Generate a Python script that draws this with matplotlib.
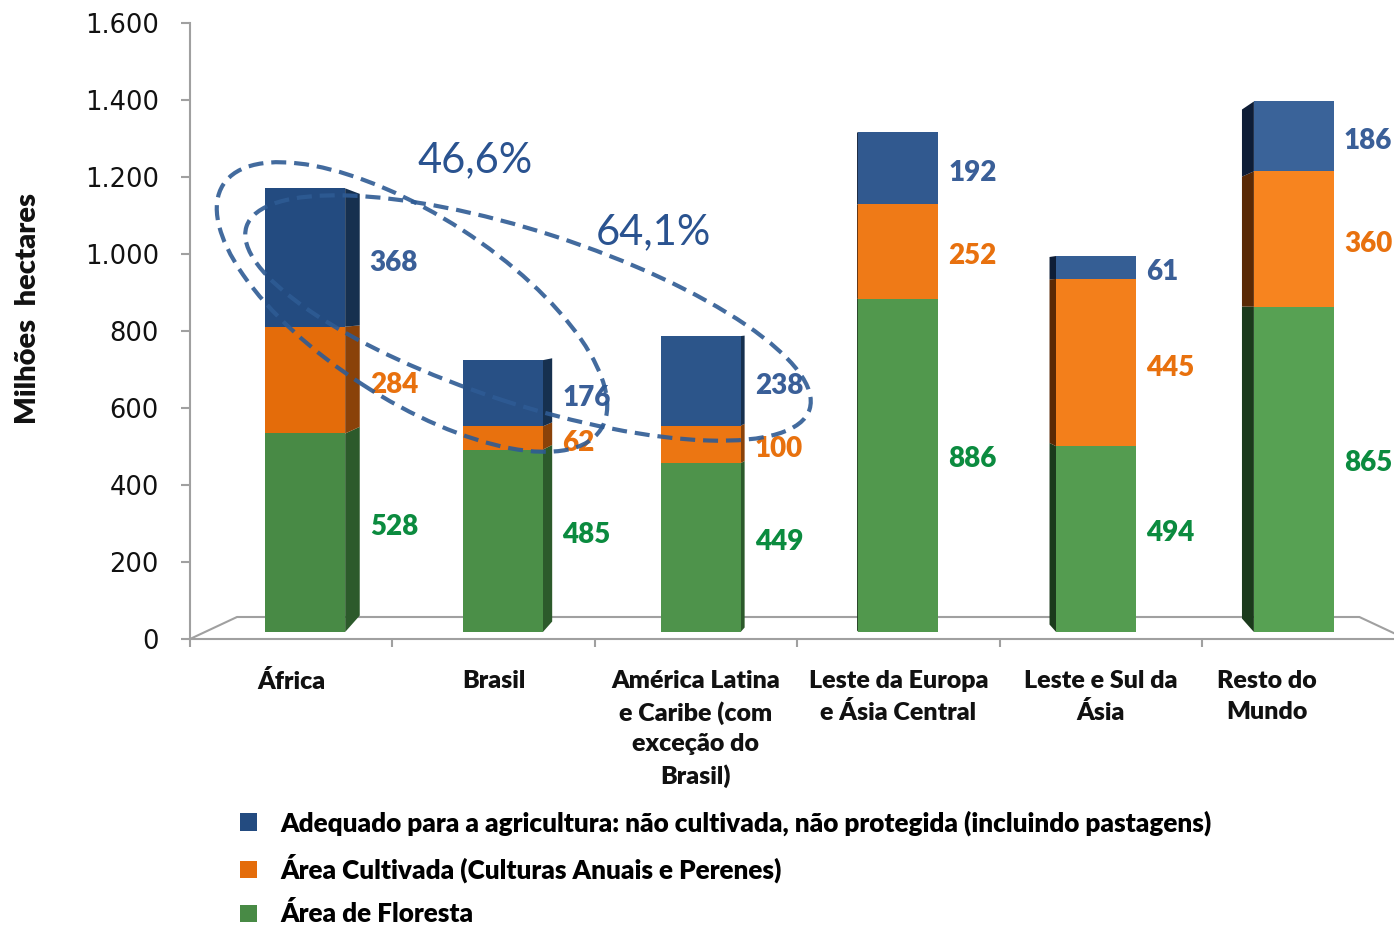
import numpy as np
import matplotlib.pyplot as plt
from matplotlib.patches import Ellipse, Polygon, Patch
from matplotlib.colors import to_rgb


#-------------------------------------------------------------------
# data (milhões de hectares)
regions = ["África", "Brasil",
           "América Latina\ne Caribe (com\nexceção do\nBrasil)",
           "Leste da Europa\ne Ásia Central", "Leste e Sul da\nÁsia",
           "Resto do\nMundo"]
floresta = [528, 485, 449, 886, 494, 865]
cultivada = [284, 62, 100, 252, 445, 360]
adequada = [368, 176, 238, 192, 61, 186]
series_names = ["Adequado para a agricultura: não cultivada, não protegida (incluindo pastagens)",
                "Área Cultivada (Culturas Anuais e Perenes)",
                "Área de Floresta"]
y_ticks = [0, 200, 400, 600, 800, 1000, 1200, 1400, 1600]
share_labels = ["46,6%", "64,1%"]

#-------------------------------------------------------------------
W, H = 1394, 926
plt.rcParams['font.family'] = ['Lato', 'DejaVu Sans']
BOLD = 800

grey = '#A0A0A0'
front_dark = ['#234B80', '#E46C0A', '#488A45']    # left of the chart
front_light = ['#3A6399', '#F7841F', '#57A153']   # right of the chart
side_right = ['#16304F', '#8A4209', '#2C5A2B']
side_left = ['#0E1D36', '#5A2905', '#1B3A1C']
label_cols = ['#3A5F98', '#E8710E', '#0B8B3F']
label_shift_px = [-5, -5, 6]   # small nudge of value labels (up > 0)

fig = plt.figure(figsize=(W / 100, H / 100), dpi=100)

# axis frame: 0 at y=639px, 1600 at y=23px, x from 190px, one category = 202.4px
cat_px = 202.4
ax = fig.add_axes([190 / W, 1 - 639 / H, 6 * cat_px / W, 616 / H])
ax.set_xlim(-0.5, 5.5)
ax.set_ylim(0, 1600)
for s in ['top', 'right']:
    ax.spines[s].set_visible(False)
for s in ['left', 'bottom']:
    ax.spines[s].set_color(grey)
    ax.spines[s].set_linewidth(1.5)
ax.set_yticks(y_ticks)
ax.set_yticklabels([f"{v:,.0f}".replace(',', '.') for v in y_ticks],
                   family='DejaVu Sans', fontsize=18.5, color='#111111')
ax.tick_params(axis='y', direction='out', length=6.5, width=1.5, color=grey, pad=16)
ax.set_xticks(np.arange(-0.5, 5.6, 1.0))
ax.set_xticklabels([])
ax.tick_params(axis='x', direction='out', length=6, width=1.5, color=grey)

# 3D floor outline
back_y = 22 / 0.385
ax.plot([-0.5, -0.5 + 47 / cat_px, 5.5 - 45 / cat_px, 5.5 + 2 / cat_px],
        [0, back_y, back_y, 0], color=grey, lw=1.5, clip_on=False, zorder=1)

# bars live on a second scale (perspective: base at 632px, 0.376 px per unit)
bar_scale = 0.376
ax2 = ax.twinx()
ax2.set_ylim(-7 / bar_scale, (616 - 7) / bar_scale)
ax2.axis('off')

stack = np.array([floresta, cultivada, adequada], dtype=float)
bottoms = np.vstack([np.zeros(6), np.cumsum(stack, axis=0)[:-1]])
x_bar = 3 + (np.arange(6) - 3) * 0.977
width = 80 / cat_px
order = [2, 1, 0]  # stack: floresta(green), cultivada(orange), adequada(blue)


def mix(c1, c2, t):
    a, b = np.array(to_rgb(c1)), np.array(to_rgb(c2))
    return tuple(a + (b - a) * t)


def back_shift(v, depth_px):
    # vertical shift of the receding edge, in bar units
    y_px = 632 - v * bar_scale
    return (y_px - 300) * 0.0034 * abs(depth_px) / bar_scale


for k in range(3):
    ci = order[k]
    for i in range(6):
        t = i / 5
        v0, v1 = bottoms[k, i], bottoms[k, i] + stack[k, i]
        ax2.bar(x_bar[i], stack[k, i], width=width, bottom=v0,
                color=mix(front_dark[ci], front_light[ci], t), edgecolor='none', zorder=3)
        d = 5.3 * (2.75 - i)
        if d > 0:
            xe = x_bar[i] + width / 2
            scol = side_right[ci]
        else:
            xe = x_bar[i] - width / 2
            scol = side_left[ci]
        xb = xe + d / cat_px
        poly = Polygon([(xe, v0), (xb, v0 + back_shift(v0, d)),
                        (xb, v1 + back_shift(v1, d)), (xe, v1)],
                       closed=True, facecolor=scol, edgecolor='none', zorder=2)
        ax2.add_patch(poly)
        # value label right of the bar
        off = (max(d, 0) + 10) / cat_px
        ax2.text(x_bar[i] + width / 2 + off,
                 (v0 + v1) / 2 + label_shift_px[ci] / bar_scale, f"{int(stack[k, i])}",
                 ha='left', va='center', fontsize=20, fontweight=BOLD,
                 color=label_cols[ci], zorder=5)

# category labels
for i, lab in enumerate(regions):
    ax.text(min(i, 4.82), -0.051, lab, transform=ax.get_xaxis_transform(),
            ha='center', va='top', fontsize=18, fontweight=BOLD,
            color='#111111', linespacing=1.45)

# y label
fig.text(28 / W, 1 - 308 / H, "Milhões  hectares", rotation=90, ha='center', va='center',
         fontsize=21, fontweight=BOLD, color='#111111')

# dashed highlight ellipses (pixel geometry)
ell_col = '#2E5B94'
for (cx, cy, a, b, th) in [(412, 307, 225, 92, 33), (528, 318, 296, 86, 18)]:
    e = Ellipse((cx / 100, (H - cy) / 100), 2 * a / 100, 2 * b / 100, angle=-th,
                transform=fig.dpi_scale_trans, fill=False, edgecolor=ell_col,
                lw=3.0, ls=(0, (3.6, 1.9)), alpha=0.9, zorder=10)
    fig.add_artist(e)

fig.text(475 / W, 1 - 160 / H, share_labels[0], ha='center', va='center',
         fontsize=30, color='#2A5390')
fig.text(653 / W, 1 - 232 / H, share_labels[1], ha='center', va='center',
         fontsize=30, color='#2A5390')

# legend
handles = [Patch(facecolor=front_dark[j], edgecolor='none') for j in range(3)]
fig.legend(handles, series_names, loc='upper left', bbox_to_anchor=(240 / W, 1 - 810 / H),
           frameon=False, prop={'family': 'Lato', 'weight': BOLD, 'size': 18.8},
           handlelength=0.65, handleheight=0.65, handletextpad=0.9,
           labelspacing=0.7, borderaxespad=0, borderpad=0)

fig.savefig('out.png', dpi=100)
